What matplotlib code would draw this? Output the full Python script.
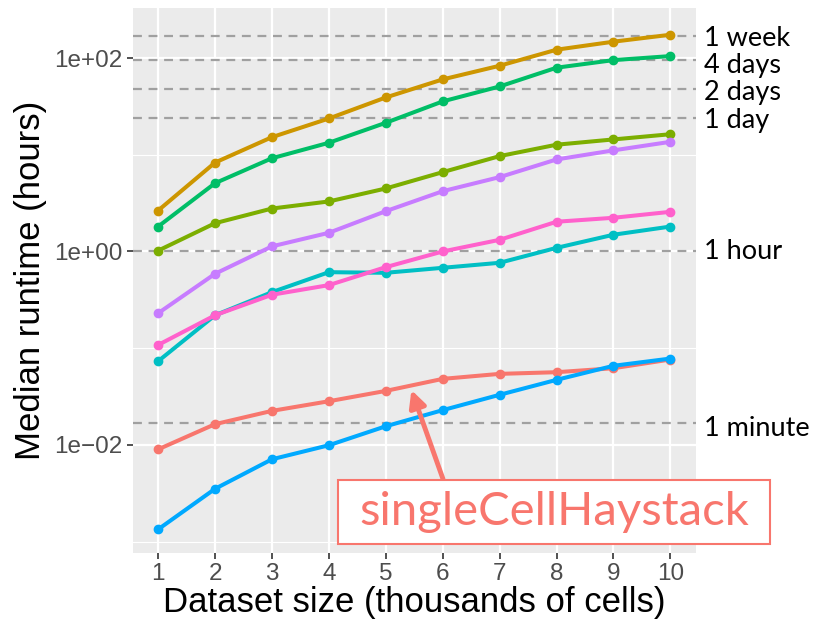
import numpy as np
import matplotlib.pyplot as plt
from matplotlib.patches import Rectangle

# dataset size, thousands of cells
cells = [1, 2, 3, 4, 5, 6, 7, 8, 9, 10]

# median runtime in hours per method (ggplot hue order)
haystack = [0.0090, 0.0164, 0.0225, 0.0283, 0.0362, 0.0482, 0.0543, 0.0565, 0.0621, 0.0764]
gold = [2.65, 8.3, 15.2, 23.7, 39.1, 60.1, 83.2, 121.9, 147.5, 174.0]
olive = [1.02, 1.96, 2.78, 3.29, 4.48, 6.61, 9.68, 12.7, 14.4, 16.3]
green = [1.81, 5.08, 9.2, 13.3, 21.4, 35.6, 50.8, 79.4, 95.1, 104.7]
teal = [0.0734, 0.219, 0.38, 0.611, 0.602, 0.678, 0.764, 1.09, 1.49, 1.81]
blue = [0.00134, 0.00352, 0.00711, 0.00993, 0.0156, 0.0229, 0.033, 0.0471, 0.0658, 0.0782]
purple = [0.230, 0.588, 1.13, 1.56, 2.61, 4.2, 5.87, 8.94, 11.1, 13.6]
pink = [0.108, 0.219, 0.357, 0.449, 0.689, 1.0, 1.32, 2.03, 2.23, 2.57]

series = [haystack, gold, olive, green, teal, blue, purple, pink]
colors = ["#F8766D", "#CD9600", "#7CAE00", "#00BE67",
          "#00BFC4", "#00A9FF", "#C77CFF", "#FF61CC"]

# reference durations in hours
ref_hours = [168, 96, 48, 24, 1, 1 / 60]
ref_labels = ["1 week", "4 days", "2 days", "1 day", "1 hour", "1 minute"]
# small downward nudges (points) so the stacked labels don't collide
ref_nudge = [-1.5, -4.5, -2.5, -1.5, 0, -3.5]

fig = plt.figure(figsize=(8.15, 6.23), dpi=100)
ax = fig.add_axes([132.5 / 815, 70 / 623, (696 - 132.5) / 815, (615 - 70) / 623])
ax.set_facecolor("#EBEBEB")
for s in ax.spines.values():
    s.set_visible(False)

ax.set_yscale("log")
ax.set_xlim(0.55, 10.45)
ax.set_ylim(10 ** -3.117, 10 ** 2.517)

ax.set_xticks(cells)
ax.set_yticks([1e-2, 1e0, 1e2])
ax.set_yticks([1e-3, 1e-1, 1e1], minor=True)
ax.yaxis.set_minor_formatter(plt.NullFormatter())
ax.set_yticklabels(["1e\u221202", "1e+00", "1e+02"])
ax.tick_params(axis="both", which="major", length=4, width=1.2, color="#333333",
               labelsize=17.5, labelcolor="#4D4D4D", pad=3)
ax.tick_params(axis="y", which="minor", length=0)
for lab in ax.get_xticklabels() + ax.get_yticklabels():
    lab.set_family("Liberation Sans")

ax.grid(True, which="major", color="white", lw=1.6)
ax.grid(True, which="minor", axis="y", color="white", lw=0.8)
ax.set_axisbelow(True)

for h in ref_hours:
    ax.axhline(h, color="#A0A0A0", lw=1.6, ls=(0, (4, 3)), zorder=1.5)

for vals, c in zip(series, colors):
    ax.plot(cells, vals, color=c, lw=2.9, marker="o", ms=6, zorder=3)

for h, lab, dy in zip(ref_hours, ref_labels, ref_nudge):
    ax.annotate(lab, xy=(1.015, h), xycoords=ax.get_yaxis_transform(),
                xytext=(0, dy), textcoords="offset points", ha="left", va="center",
                fontsize=19.5, family="Lato", color="black", annotation_clip=False)

ax.set_xlabel("Dataset size (thousands of cells)", fontsize=25,
              family="Liberation Sans", labelpad=1)
ax.set_ylabel("Median runtime (hours)", fontsize=25,
              family="Liberation Sans", labelpad=5)

# call-out box for singleCellHaystack
salmon = "#F8766D"
fig.patches.append(Rectangle((338 / 815, (623 - 544) / 623), (770 - 338) / 815, 64 / 623,
                             transform=fig.transFigure, facecolor="white",
                             edgecolor=salmon, lw=1.5, zorder=5))
fig.text((338 + 770) / 2 / 815, (623 - 512) / 623, "singleCellHaystack", ha="center",
         va="center", fontsize=34, family="Lato", color=salmon, zorder=6)
ax.annotate("", xy=(5.45, 0.037), xytext=(443, 623 - 479), textcoords="figure pixels",
            arrowprops=dict(arrowstyle="-|>,head_length=1.0,head_width=0.5",
                            color=salmon, lw=3.5, shrinkA=0, shrinkB=0),
            zorder=6, annotation_clip=False)

fig.savefig("out.png", dpi=100)
